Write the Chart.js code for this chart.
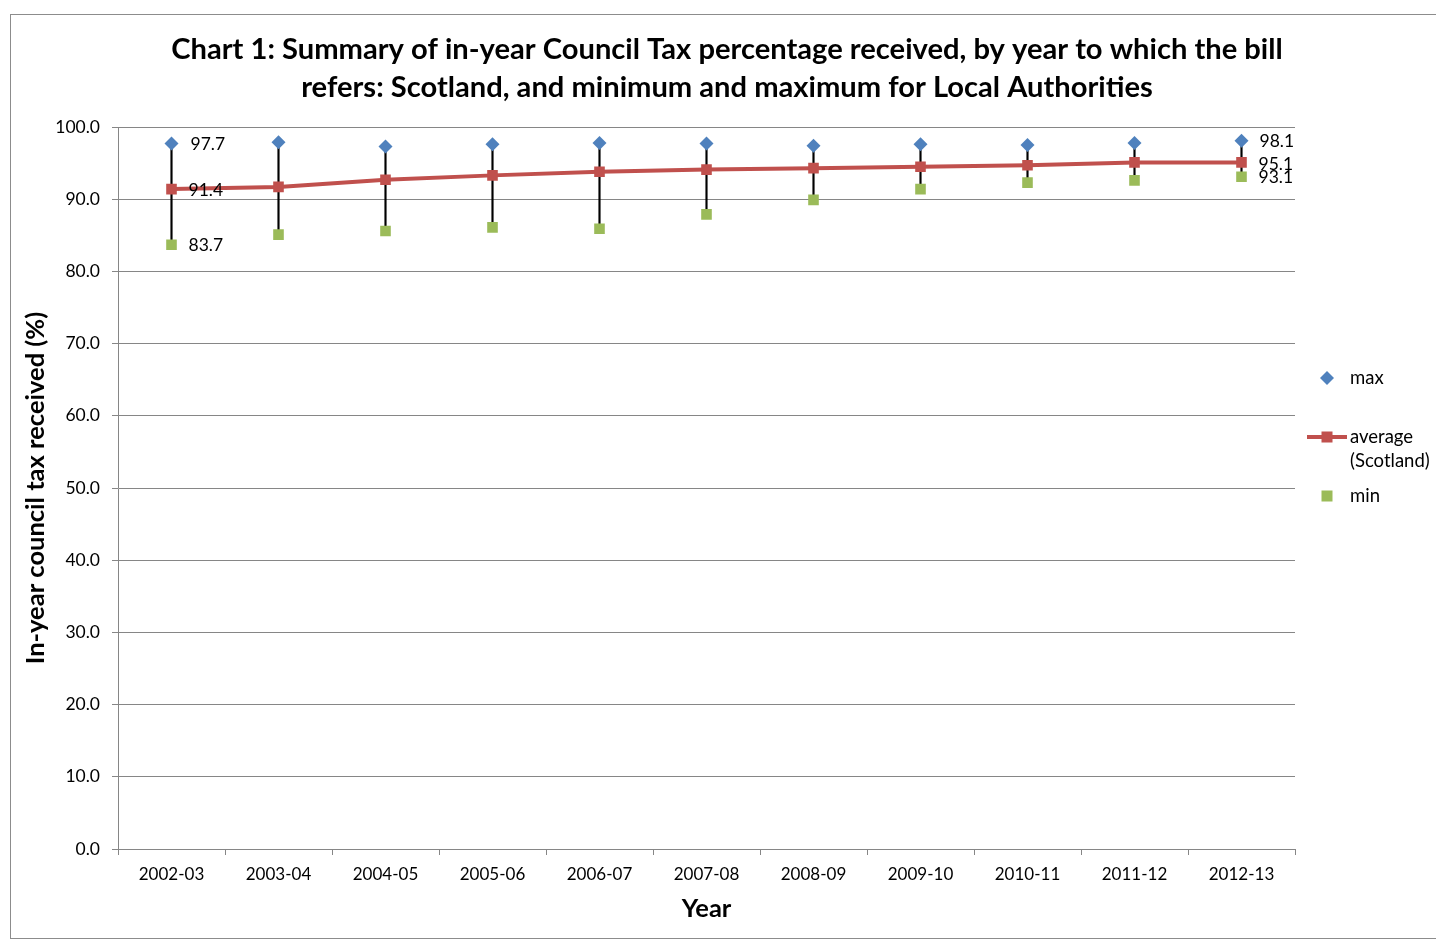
<!DOCTYPE html>
<html><head><meta charset="utf-8">
<script src="https://cdn.jsdelivr.net/npm/chart.js@4.4.0/dist/chart.umd.min.js"></script>
<style>html,body{margin:0;padding:0;background:#fff;overflow:hidden}canvas{display:block}</style>
</head><body>
<canvas id="c" width="1436" height="941"></canvas>
<script>
const years = ["2002-03","2003-04","2004-05","2005-06","2006-07","2007-08","2008-09","2009-10","2010-11","2011-12","2012-13"];
const maxValues = [97.7, 97.9, 97.3, 97.6, 97.8, 97.7, 97.4, 97.6, 97.5, 97.8, 98.1];
const averageValues = [91.4, 91.7, 92.7, 93.3, 93.8, 94.1, 94.3, 94.5, 94.7, 95.1, 95.1];
const minValues = [83.7, 85.1, 85.6, 86.1, 85.9, 87.9, 89.9, 91.4, 92.3, 92.6, 93.1];
const titleLines = ["Chart 1: Summary of in-year Council Tax percentage received, by year to which the bill",
                    "refers: Scotland, and minimum and maximum for Local Authorities"];
const yAxisTitle = "In-year council tax received (%)";
const xAxisTitle = "Year";
const legendMax = "max";
const legendAvg = ["average", "(Scotland)"];
const legendMin = "min";

const FONT = "Lato, 'Open Sans', sans-serif";
const C_MAX = "#4F81BD", C_AVG = "#C0504D", C_MIN = "#9BBB59";

const rangeBars = years.map((y, i) => [minValues[i], maxValues[i]]);

const decor = {
  id: 'decor',
  beforeDraw(chart) {
    const ctx = chart.ctx;
    ctx.save();
    ctx.fillStyle = '#fff';
    ctx.fillRect(0, 0, chart.width, chart.height);
    ctx.strokeStyle = '#8c8c8c';
    ctx.lineWidth = 1;
    ctx.strokeRect(10.5, 14.5, 1500, 924);
    ctx.restore();
  },
  afterDraw(chart) {
    const ctx = chart.ctx;
    ctx.save();
    ctx.fillStyle = '#000';
    ctx.textAlign = 'center';
    ctx.textBaseline = 'middle';
    let fs = 26;
    ctx.font = `bold ${fs}px ${FONT}`;
    const w = ctx.measureText(titleLines[0]).width;
    fs = fs * 1112 / w;
    ctx.font = `bold ${fs}px ${FONT}`;
    ctx.fillText(titleLines[0], 727, 50);
    ctx.fillText(titleLines[1], 727, 88);

    ctx.font = `17.5px ${FONT}`;
    ctx.textAlign = 'left';
    const mMax = chart.getDatasetMeta(0).data, mAvg = chart.getDatasetMeta(1).data, mMin = chart.getDatasetMeta(2).data;
    const last = years.length - 1;
    ctx.fillText(maxValues[0].toFixed(1), mMax[0].x + 19, mMax[0].y + 1);
    ctx.fillText(averageValues[0].toFixed(1), mAvg[0].x + 17, mAvg[0].y + 1);
    ctx.fillText(minValues[0].toFixed(1), mMin[0].x + 17, mMin[0].y + 1);
    ctx.fillText(maxValues[last].toFixed(1), mMax[last].x + 18, mMax[last].y + 1);
    ctx.fillText(averageValues[last].toFixed(1), mAvg[last].x + 17, mAvg[last].y + 2);
    ctx.fillText(minValues[last].toFixed(1), mMin[last].x + 17, mMin[last].y + 1);

    const lx = 1327;
    ctx.fillStyle = C_MAX;
    ctx.beginPath();
    ctx.moveTo(lx, 371); ctx.lineTo(lx + 7, 378); ctx.lineTo(lx, 385); ctx.lineTo(lx - 7, 378); ctx.closePath();
    ctx.fill();
    ctx.strokeStyle = C_AVG; ctx.lineWidth = 4;
    ctx.beginPath(); ctx.moveTo(1307, 437); ctx.lineTo(1347, 437); ctx.stroke();
    ctx.fillStyle = C_AVG;
    ctx.fillRect(lx - 5.5, 431.5, 11, 11);
    ctx.fillStyle = C_MIN;
    ctx.fillRect(lx - 5.5, 490.5, 11, 11);
    ctx.fillStyle = '#000';
    ctx.font = `18.5px ${FONT}`;
    ctx.fillText(legendMax, 1350, 378);
    ctx.fillText(legendAvg[0], 1350, 437);
    ctx.fillText(legendAvg[1], 1350, 461);
    ctx.fillText(legendMin, 1350, 496);
    ctx.restore();
  }
};

new Chart(document.getElementById('c'), {
  type: 'line',
  data: {
    labels: years,
    datasets: [
      { label: 'max', data: maxValues, showLine: false, pointStyle: 'rectRot', pointRadius: 7, pointHoverRadius: 7,
        backgroundColor: C_MAX, borderColor: C_MAX, borderWidth: 0, order: 1 },
      { label: 'average (Scotland)', data: averageValues, borderColor: C_AVG, backgroundColor: C_AVG, borderWidth: 4,
        pointStyle: 'rect', pointRadius: 7.5, pointHoverRadius: 7.5, pointBorderWidth: 0, tension: 0, order: 2 },
      { label: 'min', data: minValues, showLine: false, pointStyle: 'rect', pointRadius: 7.5, pointHoverRadius: 7.5,
        backgroundColor: C_MIN, borderColor: C_MIN, borderWidth: 0, order: 3 },
      { type: 'bar', label: 'range', data: rangeBars, backgroundColor: '#000', borderWidth: 0,
        barThickness: 1.5, grouped: false, order: 10 }
    ]
  },
  options: {
    responsive: false,
    animation: false,
    devicePixelRatio: 1,
    layout: { padding: { left: 18, right: 141, top: 127, bottom: 10 } },
    plugins: { legend: { display: false }, title: { display: false }, tooltip: { enabled: false } },
    scales: {
      x: {
        offset: true,
        grid: { display: true, drawOnChartArea: false, drawTicks: true, tickLength: 6, offset: true, color: '#868686' },
        border: { color: '#868686', width: 1 },
        ticks: { font: { family: FONT, size: 17 }, color: '#000', padding: 9, maxRotation: 0, autoSkip: false },
        title: { display: true, text: xAxisTitle, font: { family: FONT, size: 25.5, weight: 'bold' }, color: '#000', padding: { top: 0, bottom: 7 } },
        afterFit(s) { s.height = 82; }
      },
      y: {
        min: 0, max: 100,
        grid: { color: '#868686', tickLength: 6 },
        border: { color: '#868686', width: 1 },
        ticks: { stepSize: 10, font: { family: FONT, size: 17.5 }, color: '#000', padding: 12,
                 callback: v => Number(v).toFixed(1) },
        title: { display: true, text: yAxisTitle, font: { family: FONT, size: 25.5, weight: 'bold' }, color: '#000', padding: { top: 2, bottom: 0 } },
        afterFit(s) { s.width = 100; }
      }
    }
  },
  plugins: [decor]
});
</script>
</body></html>
